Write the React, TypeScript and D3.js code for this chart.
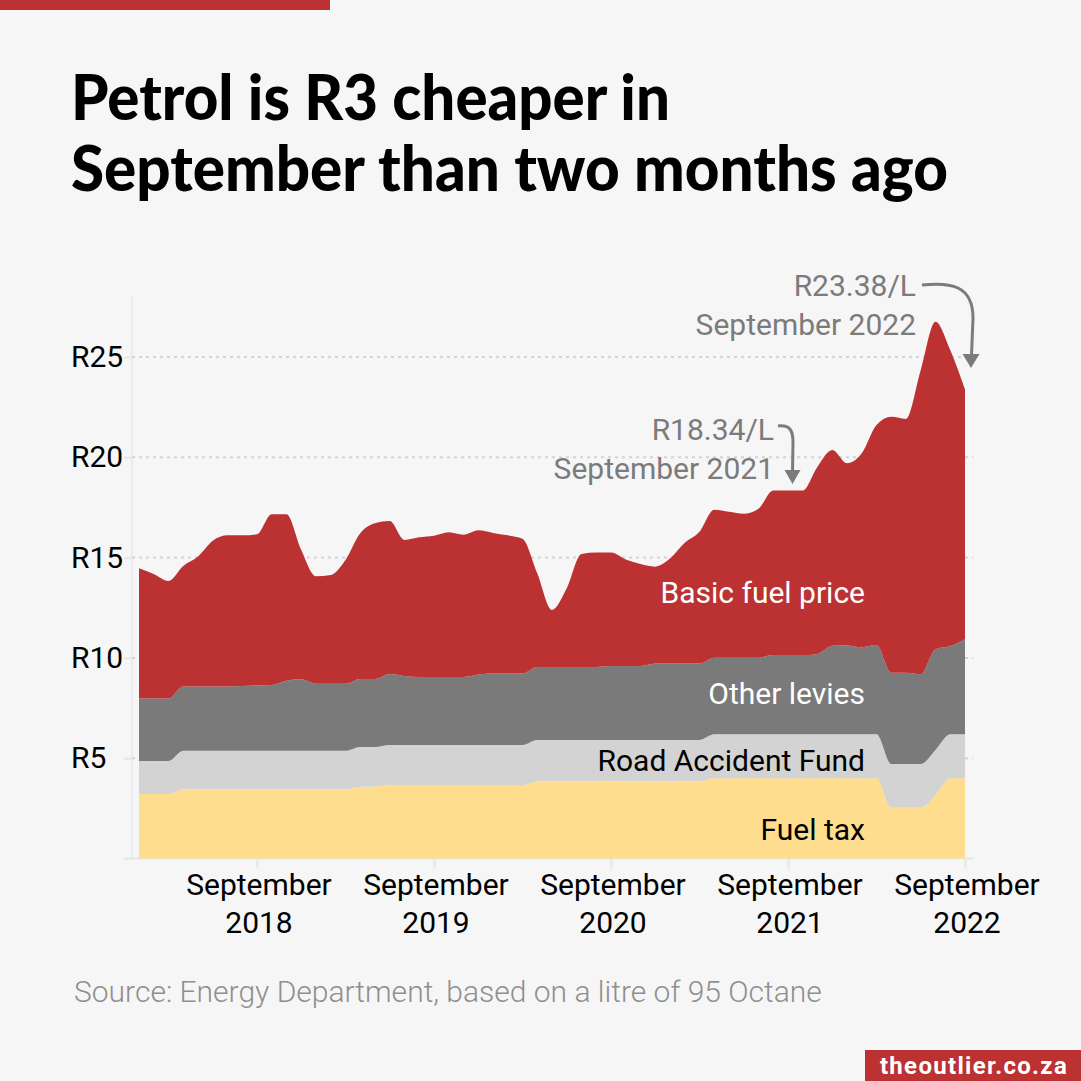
import React, { useEffect, useRef } from 'react';
import * as d3 from 'd3';

// Jan 2018 - Sep 2022, monthly, rand per litre
const months = d3.timeMonth.range(new Date(2018, 0, 1), new Date(2022, 9, 1)).map(d3.timeFormat('%Y-%m'));

const fuelTax = [
  3.22, 3.22, 3.22, 3.45, 3.45, 3.45, 3.45, 3.45, 3.45, 3.45, 3.45, 3.45, 3.45, 3.45, 3.45,
  3.58, 3.58, 3.66, 3.66, 3.66, 3.66, 3.66, 3.66, 3.66, 3.66, 3.66, 3.66,
  3.84, 3.84, 3.84, 3.84, 3.84, 3.84, 3.84, 3.84, 3.84, 3.84, 3.84, 3.84,
  4.0, 4.0, 4.0, 4.0, 4.0, 4.0, 4.0, 4.0, 4.0, 4.0, 4.0, 4.0,
  2.53, 2.53, 2.53, 3.17, 4.0, 4.0,
];
const roadAccidentFund = [
  1.64, 1.64, 1.64, 1.92, 1.92, 1.92, 1.92, 1.92, 1.92, 1.92, 1.92, 1.92, 1.92, 1.92, 1.92,
  1.98, 1.98, 2.0, 2.0, 2.0, 2.0, 2.0, 2.0, 2.0, 2.0, 2.0, 2.0,
  2.07, 2.07, 2.07, 2.07, 2.07, 2.07, 2.07, 2.07, 2.07, 2.07, 2.07, 2.07,
  2.19, 2.19, 2.19, 2.19, 2.19, 2.19, 2.19, 2.19, 2.19, 2.19, 2.19, 2.19,
  2.18, 2.18, 2.18, 2.24, 2.19, 2.19,
];
const otherLevies = [
  3.11, 3.11, 3.11, 3.21, 3.21, 3.21, 3.21, 3.23, 3.26, 3.28, 3.49, 3.56, 3.34, 3.34, 3.34,
  3.39, 3.39, 3.54, 3.44, 3.39, 3.39, 3.39, 3.39, 3.51, 3.57, 3.57, 3.57,
  3.64, 3.64, 3.64, 3.64, 3.64, 3.69, 3.69, 3.69, 3.81, 3.81, 3.81, 3.81,
  3.82, 3.82, 3.82, 3.82, 3.95, 3.95, 3.95, 4.01, 4.41, 4.43, 4.34, 4.45,
  4.55, 4.55, 4.47, 5.02, 4.4, 4.74,
];
const basicFuelPrice = [
  6.5, 6.21, 5.86, 6.0, 6.47, 7.26, 7.53, 7.51, 7.53, 8.51, 8.3, 6.45, 5.36, 5.42, 6.17,
  7.26, 7.76, 7.62, 6.78, 6.96, 7.04, 7.21, 7.09, 7.19, 7.0, 6.88, 6.71,
  4.67, 2.84, 3.92, 5.63, 5.7, 5.65, 5.31, 5.08, 4.83, 5.23, 6.02, 6.57,
  7.38, 7.28, 7.18, 7.43, 8.21, 8.2, 8.2, 9.33, 9.76, 9.08, 9.67, 10.97,
  12.76, 12.65, 15.17, 16.33, 14.76, 12.45,
];

const seriesKeys = ['fuelTax', 'roadAccidentFund', 'otherLevies', 'basicFuelPrice'];
const seriesColors = ['#ffdd8e', '#d3d3d3', '#7a7a7a', '#bc3131'];
const yTicks = [5, 10, 15, 20, 25];
const xTicks = ['2018-09', '2019-09', '2020-09', '2021-09', '2022-09'];

const BODY_FONT = 'Roboto, sans-serif';
const GREY = '#7b7b7b';

const App: React.FC = () => {
  const svgRef = useRef<SVGSVGElement>(null);

  useEffect(() => {
    if (!svgRef.current) return;
    const svg = d3.select(svgRef.current);
    svg.selectAll('*').remove();

    svg.append('rect').attr('width', 1081).attr('height', 1081).attr('fill', '#f6f6f6');
    svg.append('rect').attr('width', 330).attr('height', 10).attr('fill', '#bc3131');

    // title
    ['Petrol is R3 cheaper in', 'September than two months ago'].forEach((line, i) => {
      svg.append('text')
        .attr('x', 71)
        .attr('y', 120 + i * 71)
        .attr('font-family', 'Lato, sans-serif')
        .attr('font-weight', 900)
        .attr('font-size', 62)
        .attr('textLength', i === 0 ? 599 : 877)
        .attr('lengthAdjust', 'spacingAndGlyphs')
        .attr('fill', '#000')
        .text(line);
    });

    const x = d3.scalePoint<string>().domain(months).range([139, 965]);
    const y = d3.scaleLinear().domain([0, 25]).range([858.5, 357]);

    // axes
    const yAxis = svg.append('g')
      .attr('transform', 'translate(132,0)')
      .call(d3.axisLeft(y).tickValues([0, ...yTicks]).tickSize(8).tickFormat(() => ''));
    yAxis.select('.domain').remove();
    yAxis.selectAll('line').attr('stroke', '#e6e6e6').attr('stroke-width', 2);
    svg.append('line')
      .attr('x1', 132).attr('x2', 132).attr('y1', 296).attr('y2', y(0))
      .attr('stroke', '#ececec').attr('stroke-width', 2);

    svg.append('g')
      .selectAll('line')
      .data(yTicks)
      .enter().append('line')
      .attr('x1', 132).attr('x2', 973)
      .attr('y1', d => y(d)).attr('y2', d => y(d))
      .attr('stroke', '#d4d4d4').attr('stroke-width', 2).attr('stroke-dasharray', '3 4');

    svg.append('line')
      .attr('x1', 124).attr('x2', 973).attr('y1', y(0)).attr('y2', y(0))
      .attr('stroke', '#e6e6e6').attr('stroke-width', 2);

    const xAxis = svg.append('g')
      .attr('transform', `translate(0,${y(0)})`)
      .call(d3.axisBottom(x).tickValues(xTicks).tickSize(10).tickFormat(() => ''));
    xAxis.select('.domain').remove();
    xAxis.selectAll('line').attr('stroke', '#e6e6e6').attr('stroke-width', 2);

    svg.append('g')
      .selectAll('text')
      .data(yTicks)
      .enter().append('text')
      .attr('x', 71)
      .attr('y', d => y(d) + 10)
      .attr('font-family', BODY_FONT)
      .attr('font-size', 30)
      .attr('fill', '#000')
      .text(d => `R${d}`);

    xTicks.forEach(t => {
      const g = svg.append('g')
        .attr('font-family', BODY_FONT)
        .attr('font-size', 30)
        .attr('text-anchor', 'middle')
        .attr('fill', '#000');
      g.append('text').attr('x', (x(t) || 0) + 2).attr('y', 895).text('September');
      g.append('text').attr('x', (x(t) || 0) + 2).attr('y', 933).text(t.slice(0, 4));
    });

    // stacked areas
    const rows = months.map((m, i) => ({
      month: m,
      fuelTax: fuelTax[i],
      roadAccidentFund: roadAccidentFund[i],
      otherLevies: otherLevies[i],
      basicFuelPrice: basicFuelPrice[i],
    }));
    const stacked = d3.stack<any>().keys(seriesKeys)(rows);
    const area = d3.area<any>()
      .x(d => x(d.data.month) || 0)
      .y0(d => y(d[0]))
      .y1(d => y(d[1]))
      .curve(d3.curveMonotoneX);

    svg.append('g')
      .selectAll('path')
      .data(stacked)
      .enter().append('path')
      .attr('d', area)
      .attr('fill', (_, i) => seriesColors[i]);

    // series labels
    const seriesLabels: [string, number, string][] = [
      ['Basic fuel price', 603, '#fff'],
      ['Other levies', 704, '#fff'],
      ['Road Accident Fund', 771, '#000'],
      ['Fuel tax', 840, '#000'],
    ];
    seriesLabels.forEach(([label, baseline, color]) => {
      svg.append('text')
        .attr('x', 865)
        .attr('y', baseline)
        .attr('text-anchor', 'end')
        .attr('font-family', BODY_FONT)
        .attr('font-size', 30)
        .attr('fill', color)
        .text(label);
    });

    // annotations
    const notes: [string, string, number, number][] = [
      ['R23.38/L', 'September 2022', 916, 296],
      ['R18.34/L', 'September 2021', 774, 440],
    ];
    notes.forEach(([price, month, right, baseline]) => {
      const g = svg.append('g')
        .attr('font-family', BODY_FONT)
        .attr('font-size', 30)
        .attr('text-anchor', 'end')
        .attr('fill', GREY);
      g.append('text').attr('x', right).attr('y', baseline).text(price);
      g.append('text').attr('x', right).attr('y', baseline + 39).text(month);
    });

    const arrows = [
      { line: 'M922,285 C950,282 973,285 973,318 L971.5,356', head: 'M962.5,354 L971,368 L979.5,354 Z' },
      { line: 'M778,426 C788,425 793,428 793,442 L792.5,472', head: 'M784.5,470 L792.5,484 L800.5,470 Z' },
    ];
    arrows.forEach(a => {
      svg.append('path').attr('d', a.line).attr('fill', 'none').attr('stroke', GREY).attr('stroke-width', 3);
      svg.append('path').attr('d', a.head).attr('fill', GREY);
    });

    // source and badge
    svg.append('text')
      .attr('x', 74)
      .attr('y', 1002)
      .attr('font-family', BODY_FONT)
      .attr('font-weight', 300)
      .attr('font-size', 30)
      .attr('fill', '#8f8f8f')
      .text('Source: Energy Department, based on a litre of 95 Octane');

    svg.append('rect').attr('x', 865).attr('y', 1050).attr('width', 216).attr('height', 31).attr('fill', '#bc3131');
    svg.append('text')
      .attr('x', 974)
      .attr('y', 1074)
      .attr('text-anchor', 'middle')
      .attr('font-family', BODY_FONT)
      .attr('font-weight', 700)
      .attr('font-size', 24)
      .attr('letter-spacing', 1.3)
      .attr('fill', '#fff')
      .text('theoutlier.co.za');
  }, []);

  return (
    <svg
      ref={svgRef}
      width={1081}
      height={1081}
      style={{ position: 'absolute', top: 0, left: 0 }}
    ></svg>
  );
};

export default App;
